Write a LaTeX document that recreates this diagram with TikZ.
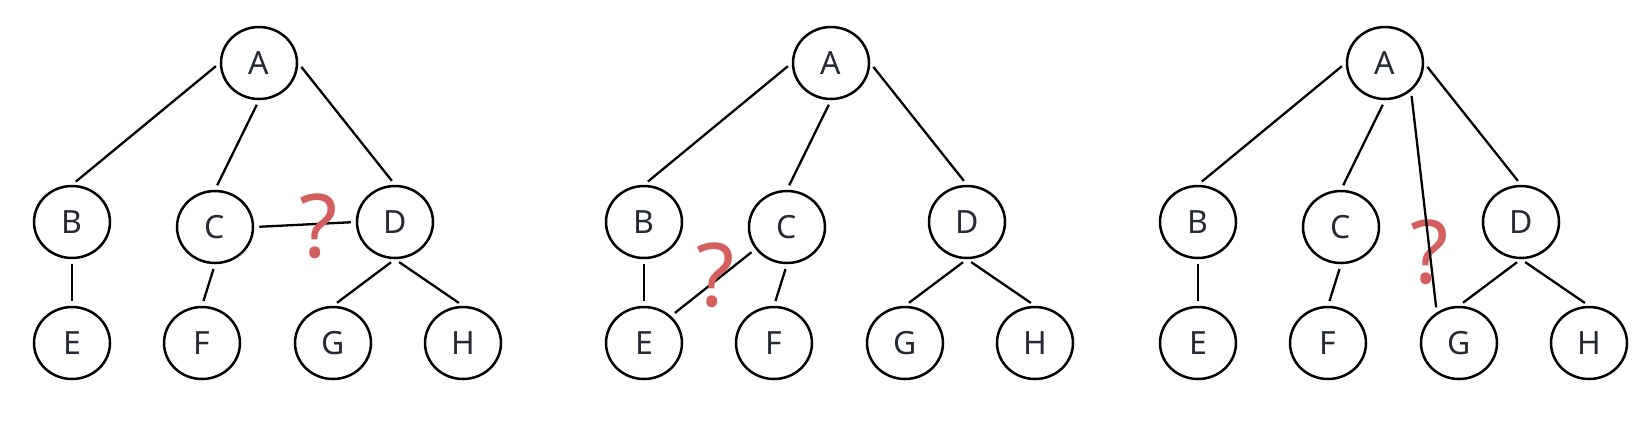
\documentclass[tikz,border=0pt]{standalone}
\usepackage{fontspec}
\setmainfont{Noto Sans}
\usepackage{xcolor}
\usepackage{tikz}
\usetikzlibrary{arrows.meta,positioning,shapes.geometric}
\definecolor{inkdark}{HTML}{262A35}
\definecolor{askred}{HTML}{D35F5F}

\begin{document}
\begin{tikzpicture}[x=0.5pt,y=-0.5pt,
  vert/.style={draw,ellipse,line width=1.25pt,minimum width=38pt,minimum height=36pt,inner sep=0pt,
    text=inkdark,font=\fontsize{16}{18}\selectfont},
  edge/.style={line width=1.15pt,shorten <=2.5pt,shorten >=2.5pt},
  ask/.style={text=askred,inner sep=0pt,font=\fontsize{44}{46}\selectfont}]
\useasboundingbox (0,0) rectangle (1635,425);
% first tree: C joined to D
\node[vert] (A1) at (259,63) {A};
\node[vert] (B1) at (72,222) {B};
\node[vert] (C1) at (215,227) {C};
\node[vert] (D1) at (395,222) {D};
\node[vert] (E1) at (72,343) {E};
\node[vert] (F1) at (202,343) {F};
\node[vert] (G1) at (333,343) {G};
\node[vert] (H1) at (463,343) {H};
\draw[edge] (A1.west)--(B1.north);
\draw[edge] (A1.south)--(C1.north);
\draw[edge] (A1.east)--(D1.north);
\draw[edge] (B1.south)--(E1.north);
\draw[edge] (C1.south)--(F1.north);
\draw[edge] (D1.south)--(G1.north);
\draw[edge] (D1.south)--(H1.north);
\draw[edge] (C1.east)--(D1.west);
\node[ask] (q1) at (319,226) {?};
% second tree: C joined to E
\node[vert] (A2) at (831,63) {A};
\node[vert] (B2) at (644,222) {B};
\node[vert] (C2) at (787,227) {C};
\node[vert] (D2) at (967,222) {D};
\node[vert] (E2) at (644,343) {E};
\node[vert] (F2) at (774,343) {F};
\node[vert] (G2) at (905,343) {G};
\node[vert] (H2) at (1035,343) {H};
\draw[edge] (A2.west)--(B2.north);
\draw[edge] (A2.south)--(C2.north);
\draw[edge] (A2.east)--(D2.north);
\draw[edge] (B2.south)--(E2.north);
\draw[edge] (C2.south)--(F2.north);
\draw[edge] (D2.south)--(G2.north);
\draw[edge] (D2.south)--(H2.north);
\draw[edge] (C2.215)--(E2.45);
\node[ask] (q2) at (716,275) {?};
% third tree: A joined to G
\node[ask] (q3) at (1430,252) {?};
\node[vert] (A3) at (1385,63) {A};
\node[vert] (B3) at (1198,222) {B};
\node[vert] (C3) at (1341,227) {C};
\node[vert] (D3) at (1521,222) {D};
\node[vert] (E3) at (1198,343) {E};
\node[vert] (F3) at (1328,343) {F};
\node[vert] (G3) at (1459,343) {G};
\node[vert] (H3) at (1589,343) {H};
\draw[edge] (A3.west)--(B3.north);
\draw[edge] (A3.south)--(C3.north);
\draw[edge] (A3.east)--(D3.north);
\draw[edge] (B3.south)--(E3.north);
\draw[edge] (C3.south)--(F3.north);
\draw[edge] (D3.south)--(G3.north);
\draw[edge] (D3.south)--(H3.north);
\draw[edge] (A3.-47)--(G3.126);
\end{tikzpicture}
\end{document}
